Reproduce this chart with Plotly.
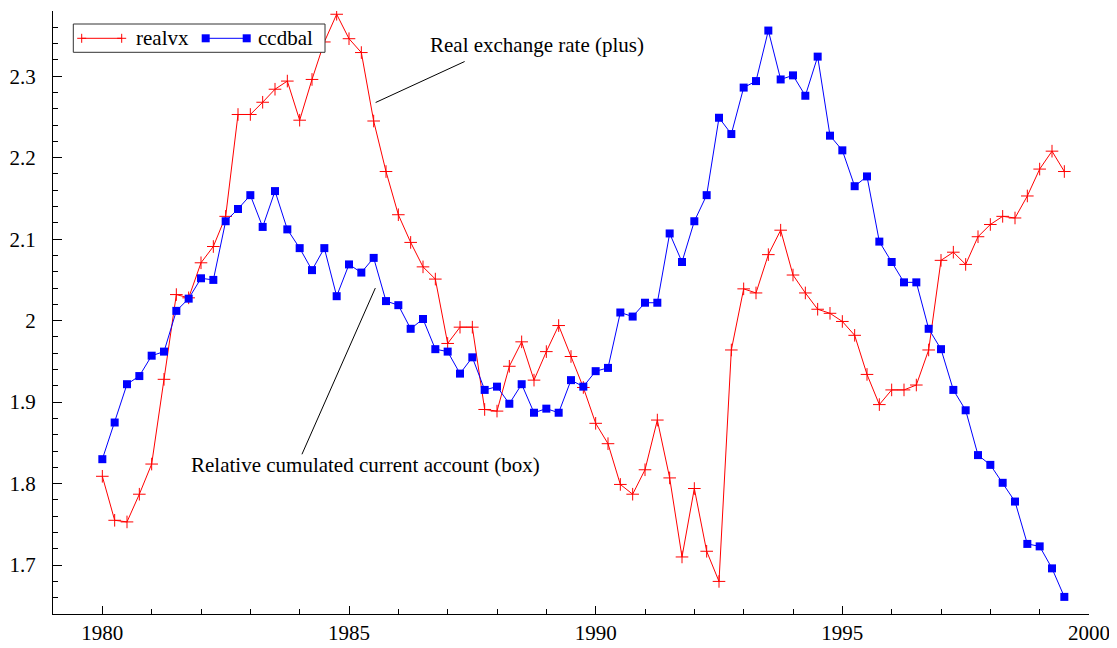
import plotly.graph_objects as go

years = [
    1980.00, 1980.25, 1980.50, 1980.75, 1981.00, 1981.25, 1981.50, 1981.75,
    1982.00, 1982.25, 1982.50, 1982.75, 1983.00, 1983.25, 1983.50, 1983.75,
    1984.00, 1984.25, 1984.50, 1984.75, 1985.00, 1985.25, 1985.50, 1985.75,
    1986.00, 1986.25, 1986.50, 1986.75, 1987.00, 1987.25, 1987.50, 1987.75,
    1988.00, 1988.25, 1988.50, 1988.75, 1989.00, 1989.25, 1989.50, 1989.75,
    1990.00, 1990.25, 1990.50, 1990.75, 1991.00, 1991.25, 1991.50, 1991.75,
    1992.00, 1992.25, 1992.50, 1992.75, 1993.00, 1993.25, 1993.50, 1993.75,
    1994.00, 1994.25, 1994.50, 1994.75, 1995.00, 1995.25, 1995.50, 1995.75,
    1996.00, 1996.25, 1996.50, 1996.75, 1997.00, 1997.25, 1997.50, 1997.75,
    1998.00, 1998.25, 1998.50, 1998.75, 1999.00, 1999.25, 1999.50,
]

realvx = [
    1.809, 1.755, 1.753, 1.787, 1.824, 1.928, 2.032, 2.028,
    2.071, 2.091, 2.128, 2.253, 2.253, 2.268, 2.284, 2.294,
    2.246, 2.296, 2.342, 2.376, 2.346, 2.329, 2.245, 2.183,
    2.130, 2.096, 2.066, 2.051, 1.972, 1.992, 1.992, 1.891,
    1.889, 1.944, 1.974, 1.927, 1.962, 1.994, 1.956, 1.918,
    1.874, 1.849, 1.799, 1.787, 1.817, 1.878, 1.807, 1.710,
    1.794, 1.717, 1.680, 1.964, 2.039, 2.034, 2.081, 2.111,
    2.056, 2.034, 2.014, 2.009, 1.999, 1.982, 1.934, 1.897,
    1.915, 1.915, 1.921, 1.964, 2.074, 2.084, 2.069, 2.103,
    2.118, 2.128, 2.126, 2.153, 2.186, 2.208, 2.183,
]

ccdbal = [
    1.830, 1.875, 1.922, 1.932, 1.957, 1.962, 2.012, 2.027,
    2.052, 2.050, 2.122, 2.137, 2.154, 2.115, 2.159, 2.112,
    2.089, 2.062, 2.089, 2.030, 2.069, 2.059, 2.077, 2.024,
    2.019, 1.990, 2.002, 1.965, 1.962, 1.935, 1.955, 1.915,
    1.919, 1.898, 1.922, 1.887, 1.892, 1.887, 1.927, 1.919,
    1.938, 1.942, 2.010, 2.005, 2.022, 2.022, 2.107, 2.072,
    2.122, 2.154, 2.249, 2.229, 2.286, 2.294, 2.356, 2.296,
    2.301, 2.276, 2.324, 2.227, 2.209, 2.165, 2.177, 2.097,
    2.072, 2.047, 2.047, 1.990, 1.965, 1.915, 1.890, 1.835,
    1.823, 1.801, 1.778, 1.726, 1.723, 1.696, 1.661,
]

series_names = ["realvx", "ccdbal"]
series_colors = ["#ff0000", "#0000ff"]

FONT = "Liberation Serif, Times New Roman, serif"

fig = go.Figure()
fig.add_trace(go.Scatter(
    x=years, y=realvx, name=series_names[0], mode="lines+markers",
    line=dict(color=series_colors[0], width=1),
    marker=dict(symbol="cross-thin-open", size=9, color=series_colors[0],
                line=dict(color=series_colors[0], width=1)),
))
fig.add_trace(go.Scatter(
    x=years, y=ccdbal, name=series_names[1], mode="lines+markers",
    line=dict(color=series_colors[1], width=1),
    marker=dict(symbol="square", size=8, color=series_colors[1],
                line=dict(width=0)),
))

# annotation texts
fig.add_annotation(x=1986.594, y=2.3378, xref="x", yref="y",
                   text="Real exchange rate (plus)", showarrow=False,
                   xanchor="left", yanchor="middle",
                   font=dict(family=FONT, size=21, color="black"))
fig.add_annotation(x=1981.756, y=1.8226, xref="x", yref="y",
                   text="Relative cumulated current account (box)", showarrow=False,
                   xanchor="left", yanchor="middle",
                   font=dict(family=FONT, size=21, color="black"))
# leader lines
fig.add_shape(type="line", xref="x", yref="y",
              x0=1987.344, y0=2.318, x1=1985.54, y1=2.2677,
              line=dict(color="black", width=1))
fig.add_shape(type="line", xref="x", yref="y",
              x0=1984.046, y0=1.836, x1=1985.534, y1=2.040,
              line=dict(color="black", width=1))

# ---- custom legend box (plot area spans 1036 x 603 px) ----
PW, PH = 1036.0, 603.0
def pxx(dx):
    return dx / PW
def pxy(dy):
    return dy / PH

LX0, LX1 = pxx(20.3), pxx(272.0)      # box left/right (from plot left)
LY0, LY1 = 1 - pxy(41.3), 1 - pxy(13.0)
LYC = 1 - pxy(27.3)                   # center line of items
fig.add_shape(type="rect", xref="paper", yref="paper",
              x0=LX0, x1=LX1, y0=LY0, y1=LY1,
              line=dict(color="#333333", width=1), fillcolor="white", layer="above")

# item 1: red line with plus markers at both ends
for k, (sx0, sx1, tx) in enumerate([(28.7, 68.7, 81.0), (152.7, 193.7, 203.0)]):
    col = series_colors[k]
    fig.add_shape(type="line", xref="paper", yref="paper",
                  x0=pxx(sx0), x1=pxx(sx1), y0=LYC, y1=LYC,
                  line=dict(color=col, width=1), layer="above")
    for ex in (sx0, sx1):
        if k == 0:
            fig.add_shape(type="line", xref="paper", yref="paper",
                          x0=pxx(ex - 4.5), x1=pxx(ex + 4.5), y0=LYC, y1=LYC,
                          line=dict(color=col, width=1), layer="above")
            fig.add_shape(type="line", xref="paper", yref="paper",
                          x0=pxx(ex), x1=pxx(ex), y0=LYC - pxy(4.5), y1=LYC + pxy(4.5),
                          line=dict(color=col, width=1), layer="above")
        else:
            fig.add_shape(type="rect", xref="paper", yref="paper",
                          x0=pxx(ex - 4), x1=pxx(ex + 4),
                          y0=LYC - pxy(4), y1=LYC + pxy(4),
                          line=dict(width=0), fillcolor=col, layer="above")
    fig.add_annotation(x=pxx(tx), y=LYC, xref="paper", yref="paper",
                       text=series_names[k], showarrow=False,
                       xanchor="left", yanchor="middle",
                       font=dict(family=FONT, size=21, color="black"))

fig.update_layout(
    width=1109, height=640,
    margin=dict(l=45, r=28, t=3, b=34, autoexpand=False),
    paper_bgcolor="white", plot_bgcolor="white",
    font=dict(family=FONT, size=21, color="black"),
    showlegend=False,
    xaxis=dict(
        range=[1979, 2000], showgrid=False, zeroline=False, automargin=False,
        showline=True, linecolor="black", linewidth=1,
        ticks="inside", ticklen=8, tickcolor="black", tickwidth=1,
        tick0=1980, dtick=5,
        minor=dict(ticks="inside", ticklen=5, dtick=1, tick0=1980,
                   tickcolor="black", showgrid=False),
        tickfont=dict(family=FONT, size=21, color="black"),
        ticklabelstandoff=0,
    ),
    yaxis=dict(
        range=[1.64, 2.38], showgrid=False, zeroline=False, automargin=False,
        showline=True, linecolor="black", linewidth=1,
        ticks="inside", ticklen=9, tickcolor="black", tickwidth=1,
        tick0=1.7, dtick=0.1,
        minor=dict(ticks="inside", ticklen=5, dtick=0.02, tick0=1.64,
                   tickcolor="black", showgrid=False),
        tickfont=dict(family=FONT, size=21, color="black"),
        ticklabelstandoff=12,
    ),
)

fig.write_html("out.html")
